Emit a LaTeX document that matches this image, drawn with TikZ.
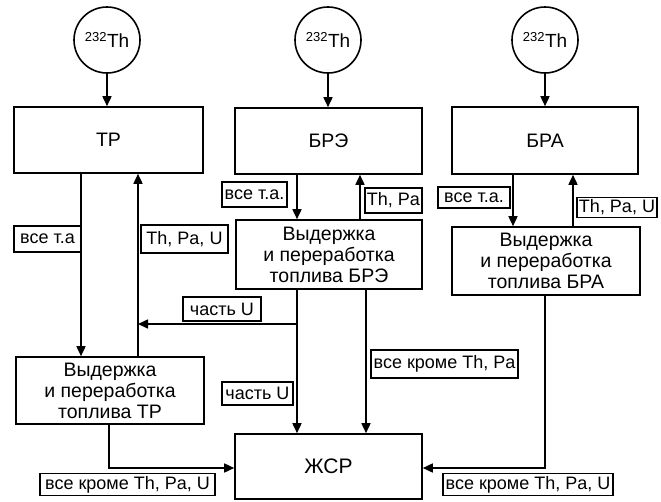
\documentclass[tikz,border=0pt]{standalone}
\usepackage{fontspec}
\setmainfont{Liberation Sans}
\usetikzlibrary{arrows.meta}
\tikzset{
  blk/.style={draw, line width=1.6pt, inner sep=0pt, align=center, font=\fontsize{19.5}{21}\selectfont},
  src/.style={draw, circle, line width=1.6pt, inner sep=0pt, minimum size=66pt, font=\fontsize{19}{21}\selectfont},
  lbl/.style={draw, fill=white, line width=1.5pt, inner sep=0pt, font=\fontsize{18}{18}\selectfont},
  arr/.style={line width=1.6pt, -{Triangle[length=10pt,width=9pt]}},
}
\begin{document}
\begin{tikzpicture}[x=1pt,y=-1pt]
\useasboundingbox (0,0) rectangle (661,501);
% sources
\node[src] (c1) at (107,40) {\textsuperscript{\fontsize{13}{13}\selectfont 232}Th};
\node[src] (c2) at (328,40) {\textsuperscript{\fontsize{13}{13}\selectfont 232}Th};
\node[src] (c3) at (545,40) {\textsuperscript{\fontsize{13}{13}\selectfont 232}Th};
% reactors
\node[blk, minimum width=189pt, minimum height=66pt] (tr) at (108.5,140) {ТР};
\node[blk, minimum width=187pt, minimum height=66pt] (bre) at (328.5,141) {БРЭ};
\node[blk, minimum width=186pt, minimum height=67pt] (bra) at (545,140.5) {БРА};
% processing
\node[blk, minimum width=188pt, minimum height=67pt] (ptr) at (110,390.5) {Выдержка\\и переработка\\топлива ТР};
\node[blk, minimum width=186pt, minimum height=69pt] (pbre) at (329,254.5) {Выдержка\\и переработка\\топлива БРЭ};
\node[blk, minimum width=188pt, minimum height=68pt] (pbra) at (546,261) {Выдержка\\и переработка\\топлива БРА};
% storage
\node[blk, minimum width=187pt, minimum height=65pt, font=\fontsize{21}{22}\selectfont] (zsr) at (328.5,466.5) {ЖСР};
% column coordinates
\coordinate (xa) at (81,0);
\coordinate (xb) at (138,0);
\coordinate (xc) at (109,0);
\coordinate (xd) at (297,0);
\coordinate (xe) at (360,0);
\coordinate (xf) at (366,0);
\coordinate (xg) at (513,0);
\coordinate (xh) at (573,0);
\coordinate (xi) at (545,0);
\coordinate (ya) at (0,324);
\coordinate (yb) at (0,468);
% feed
\draw[arr] (c1) -- (c1 |- tr.north);
\draw[arr] (c2) -- (c2 |- bre.north);
\draw[arr] (c3) -- (c3 |- bra.north);
% TR loop
\draw[arr] (xa |- tr.south) -- (xa |- ptr.north);
\draw[arr] (xb |- ptr.north) -- (xb |- tr.south);
% BRE loop
\draw[arr] (xd |- bre.south) -- (xd |- pbre.north);
\draw[arr] (xe |- pbre.north) -- (xe |- bre.south);
% BRA loop
\draw[arr] (xg |- bra.south) -- (xg |- pbra.north);
\draw[arr] (xh |- pbra.north) -- (xh |- bra.south);
% BRE processing outputs
\draw[arr] (xd |- pbre.south) -- (xd |- zsr.north);
\draw[arr] (xd |- ya) -- (xb |- ya);
\draw[arr] (xf |- pbre.south) -- (xf |- zsr.north);
% to storage
\draw[arr] (xc |- ptr.south) -- (xc |- yb) -- (zsr.west |- yb);
\draw[arr] (xi |- pbra.south) -- (xi |- yb) -- (zsr.east |- yb);
% labels
\node[lbl, minimum width=67pt, minimum height=26pt] (l1) at (47.5,239) {все т.а};
\node[lbl, minimum width=87pt, minimum height=28pt] (l2) at (184.5,239) {Th, Pa, U};
\node[lbl, minimum width=65pt, minimum height=25pt] (l3) at (254.5,194.5) {все т.а.};
\node[lbl, minimum width=57pt, minimum height=25pt] (l4) at (393.5,200.5) {Th, Pa};
\node[lbl, minimum width=72pt, minimum height=21pt] (l5) at (474,197.5) {все т.а.};
\node[lbl, minimum width=80pt, minimum height=20pt] (l6) at (617,207.5) {Th, Pa, U};
\node[lbl, minimum width=78pt, minimum height=24pt] (l7) at (222,309) {часть U};
\node[lbl, minimum width=71pt, minimum height=23pt] (l8) at (257.5,393.5) {часть U};
\node[lbl, minimum width=147pt, minimum height=28pt] (l9) at (444.5,364) {все кроме Th, Pa};
\node[lbl, minimum width=175pt, minimum height=22pt] (l10) at (127.5,484.5) {все кроме Th, Pa, U};
\node[lbl, minimum width=170pt, minimum height=22pt] (l11) at (528,484.5) {все кроме Th, Pa, U};
\end{tikzpicture}
\end{document}
